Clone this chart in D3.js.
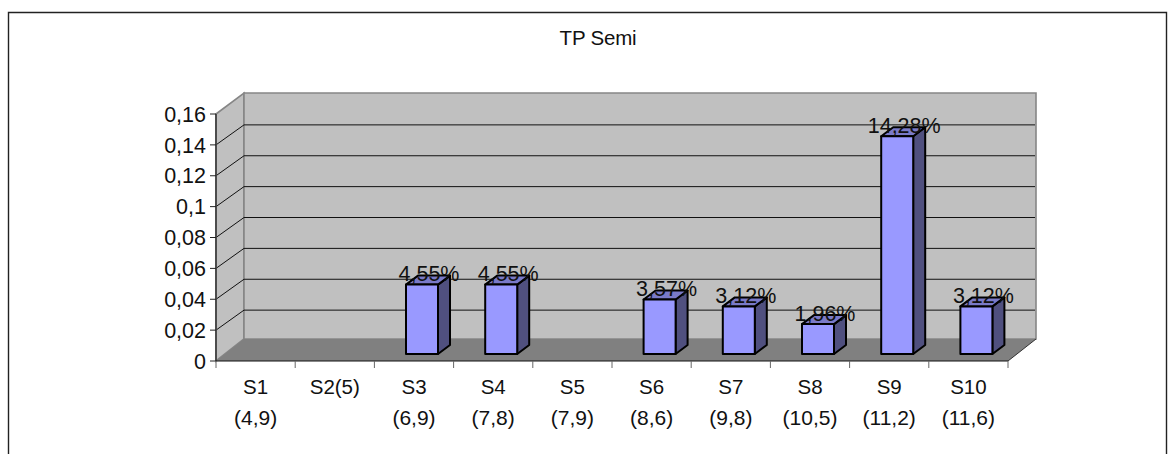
<!DOCTYPE html>
<html><head><meta charset="utf-8">
<script src="https://cdn.jsdelivr.net/npm/d3@7"></script>
<style>html,body{margin:0;padding:0;background:#fff}svg{display:block}text{font-family:"Liberation Sans",Arial,sans-serif;fill:#111}</style>
</head><body><svg id="c" width="1174" height="454"></svg>
<script>
const categories=["S1","S2(5)","S3","S4","S5","S6","S7","S8","S9","S10"];
const subLabels=["(4,9)","","(6,9)","(7,8)","(7,9)","(8,6)","(9,8)","(10,5)","(11,2)","(11,6)"];
const values=[null,null,0.0455,0.0455,null,0.0357,0.0312,0.0196,0.1428,0.0312];
const valueLabels=["","","4,55%","4,55%","","3,57%","3,12%","1,96%","14,28%","3,12%"];
const yTicks=[0,0.02,0.04,0.06,0.08,0.1,0.12,0.14,0.16];
const titleText="TP Semi";

const svg=d3.select("#c");
const x=d3.scaleBand().domain(categories).range([216,1008]);
const y=d3.scaleLinear().domain([0,0.16]).range([361,114]);
const yBar=d3.scaleLinear().domain([0,0.16]).range([354,110]);
const wall={dx:28,dy:-22,topDy:-21,gridDy:-20}, bd={dx:12,dy:-9}, barShift=8, barW=32;
const fmt=v=>String(v).replace(".",",");

svg.append("path").attr("d","M8.5,454V12.5H1166.5V454").attr("fill","none").attr("stroke","#222").attr("stroke-width",1.4);
svg.append("text").attr("x",598).attr("y",45).attr("text-anchor","middle").attr("font-size",20.5).attr("letter-spacing",-0.2).text(titleText);

const X0=x.range()[0],X1=x.range()[1],Y0=y(0),YT=y(0.16);
const bY=Y0+wall.dy,tY=YT+wall.topDy;
svg.append("path").attr("d",`M${X0},${Y0}V${YT}L${X0+wall.dx},${tY}V${bY}Z`).attr("fill","#c0c0c0").attr("stroke","#868686").attr("stroke-width",1.6);
svg.append("path").attr("d",`M${X0+wall.dx},${bY}V${tY}H${X1+wall.dx}V${bY}Z`).attr("fill","#c0c0c0").attr("stroke","#868686").attr("stroke-width",1.6);
svg.append("path").attr("d",`M${X0},${Y0}L${X0+wall.dx},${bY}H${X1+wall.dx}L${X1},${Y0}Z`).attr("fill","#808080");
svg.append("path").attr("d",`M${X1},${Y0}L${X1+wall.dx},${bY}`).attr("stroke","#333").attr("fill","none");

const gt=yTicks.slice(1,-1);
svg.append("g").selectAll("path").data(gt).join("path")
 .attr("d",t=>`M${X0},${y(t)}L${X0+wall.dx},${y(t)+wall.gridDy}H${X1+wall.dx-1}`)
 .attr("fill","none").attr("stroke","#111").attr("stroke-width",1);

svg.append("line").attr("x1",X0).attr("x2",X0).attr("y1",Y0).attr("y2",YT).attr("stroke","#444").attr("stroke-width",1.8);
svg.append("line").attr("x1",X0).attr("x2",X1).attr("y1",Y0).attr("y2",Y0).attr("stroke","#111").attr("stroke-width",1.2);
const yAxis=svg.append("g");
yAxis.selectAll("line").data(yTicks).join("line").attr("x1",X0-6).attr("x2",X0).attr("y1",d=>y(d)).attr("y2",d=>y(d)).attr("stroke","#222");
yAxis.selectAll("text").data(yTicks).join("text").attr("x",X0-10).attr("y",d=>y(d)).attr("dy","0.36em").attr("text-anchor","end").attr("font-size",21.5).text(fmt);
const tickXs=categories.map(c=>x(c)).concat([X1]);
svg.append("g").selectAll("line").data(tickXs).join("line").attr("x1",d=>d).attr("x2",d=>d).attr("y1",Y0).attr("y2",Y0+7).attr("stroke","#666");
svg.append("g").selectAll("text").data(categories).join("text").attr("x",d=>x(d)+x.bandwidth()/2).attr("y",394).attr("text-anchor","middle").attr("font-size",20.5).text(d=>d);
svg.append("g").selectAll("text").data(subLabels).join("text").attr("x",(d,i)=>x(categories[i])+x.bandwidth()/2).attr("y",425).attr("text-anchor","middle").attr("font-size",21).text(d=>d);

const data=categories.map((c,i)=>({c,v:values[i],l:valueLabels[i]})).filter(d=>d.v!=null);
const g=svg.append("g").selectAll("g").data(data).join("g");
const bx=d=>x(d.c)+x.bandwidth()/2+barShift-barW/2;
const sty=s=>s.attr("stroke","#000").attr("stroke-width",2).attr("stroke-linejoin","round");
g.append("path").attr("d",d=>{const a=bx(d)+barW,t=yBar(d.v),b=yBar(0);return `M${a},${t}l${bd.dx},${bd.dy}V${b+bd.dy}L${a},${b}Z`}).attr("fill","#50507f").call(sty);
g.append("path").attr("d",d=>{const a=bx(d),t=yBar(d.v);return `M${a},${t}l${bd.dx},${bd.dy}h${barW}l${-bd.dx},${-bd.dy}Z`}).attr("fill","#7a7ac8").call(sty);
g.append("rect").attr("x",bx).attr("y",d=>yBar(d.v)).attr("width",barW).attr("height",d=>yBar(0)-yBar(d.v)).attr("fill","#9999ff").call(sty);
g.append("text").attr("x",d=>bx(d)+barW/2+7).attr("y",d=>yBar(d.v)-3.5).attr("text-anchor","middle").attr("font-size",21.5).text(d=>d.l);
</script></body></html>
